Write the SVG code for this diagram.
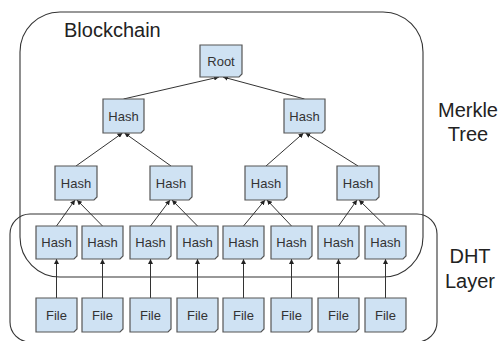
<svg xmlns="http://www.w3.org/2000/svg" width="499" height="341" viewBox="0 0 499 341">
<style>
.box{fill:#cfe2f3;stroke:#555;stroke-width:1.2}
.lbl{font-family:"Liberation Sans",Arial,sans-serif;font-size:13px;fill:#333;text-anchor:middle}
.big{font-family:"Liberation Sans",Arial,sans-serif;font-size:20px;fill:#222}
.region{fill:none;stroke:#333;stroke-width:1.1}
.conn{stroke:#333;stroke-width:1;fill:none;marker-end:url(#ah)}
</style>
<defs>
<marker id="ah" viewBox="0 0 10 10" refX="10" refY="5" markerWidth="5" markerHeight="5" orient="auto" markerUnits="userSpaceOnUse">
<path d="M0,0 L10,5 L0,10 z" fill="#222"/>
</marker>
</defs>
<rect id="blockchain" class="region" x="20" y="12" width="403" height="265" rx="40" ry="40"/>
<rect id="dht" class="region" x="10" y="214" width="427" height="128" rx="20" ry="20"/>
<text class="big" x="64" y="37">Blockchain</text>
<text class="big" x="468" y="117" text-anchor="middle">Merkle</text>
<text class="big" x="468" y="141" text-anchor="middle">Tree</text>
<text class="big" x="470" y="263" text-anchor="middle">DHT</text>
<text class="big" x="470" y="288" text-anchor="middle">Layer</text>
<g id="connectors">
<line class="conn" x1="123.5" y1="99" x2="219" y2="77"/>
<line class="conn" x1="304.5" y1="99" x2="223" y2="77"/>
<line class="conn" x1="76" y1="166" x2="122.5" y2="133"/>
<line class="conn" x1="171" y1="166" x2="124.5" y2="133"/>
<line class="conn" x1="266" y1="166" x2="303.5" y2="133"/>
<line class="conn" x1="358" y1="166" x2="305.5" y2="133"/>
<line class="conn" x1="56.5" y1="226" x2="75" y2="200"/>
<line class="conn" x1="102.5" y1="226" x2="77" y2="200"/>
<line class="conn" x1="150.5" y1="226" x2="170" y2="200"/>
<line class="conn" x1="197.5" y1="226" x2="172" y2="200"/>
<line class="conn" x1="243.5" y1="226" x2="265" y2="200"/>
<line class="conn" x1="291.5" y1="226" x2="267" y2="200"/>
<line class="conn" x1="338.5" y1="226" x2="357" y2="200"/>
<line class="conn" x1="385.5" y1="226" x2="359" y2="200"/>
<line class="conn" x1="56.5" y1="298" x2="56.5" y2="259"/>
<line class="conn" x1="102.5" y1="298" x2="102.5" y2="259"/>
<line class="conn" x1="150.5" y1="298" x2="150.5" y2="259"/>
<line class="conn" x1="197.5" y1="298" x2="197.5" y2="259"/>
<line class="conn" x1="243.5" y1="298" x2="243.5" y2="259"/>
<line class="conn" x1="291.5" y1="298" x2="291.5" y2="259"/>
<line class="conn" x1="338.5" y1="298" x2="338.5" y2="259"/>
<line class="conn" x1="385.5" y1="298" x2="385.5" y2="259"/>
</g>
<g id="root"><path class="box" d="M200,45 h42 v29 l-3,3 h-39 z"/><text class="lbl" x="221" y="65.5">Root</text></g>
<g id="h1a"><path class="box" d="M103,99 h41 v31 l-3,3 h-38 z"/><text class="lbl" x="123.5" y="120.5">Hash</text></g>
<g id="h1b"><path class="box" d="M284,99 h41 v31 l-3,3 h-38 z"/><text class="lbl" x="304.5" y="120.5">Hash</text></g>
<g id="h2a"><path class="box" d="M55,166 h42 v31 l-3,3 h-39 z"/><text class="lbl" x="76" y="187.5">Hash</text></g>
<g id="h2b"><path class="box" d="M150,166 h42 v31 l-3,3 h-39 z"/><text class="lbl" x="171" y="187.5">Hash</text></g>
<g id="h2c"><path class="box" d="M245,166 h42 v31 l-3,3 h-39 z"/><text class="lbl" x="266" y="187.5">Hash</text></g>
<g id="h2d"><path class="box" d="M337,166 h42 v31 l-3,3 h-39 z"/><text class="lbl" x="358" y="187.5">Hash</text></g>
<g id="h3a"><path class="box" d="M36,226 h41 v30 l-3,3 h-38 z"/><text class="lbl" x="56.5" y="247">Hash</text></g>
<g id="h3b"><path class="box" d="M82,226 h41 v30 l-3,3 h-38 z"/><text class="lbl" x="102.5" y="247">Hash</text></g>
<g id="h3c"><path class="box" d="M130,226 h41 v30 l-3,3 h-38 z"/><text class="lbl" x="150.5" y="247">Hash</text></g>
<g id="h3d"><path class="box" d="M177,226 h41 v30 l-3,3 h-38 z"/><text class="lbl" x="197.5" y="247">Hash</text></g>
<g id="h3e"><path class="box" d="M223,226 h41 v30 l-3,3 h-38 z"/><text class="lbl" x="243.5" y="247">Hash</text></g>
<g id="h3f"><path class="box" d="M271,226 h41 v30 l-3,3 h-38 z"/><text class="lbl" x="291.5" y="247">Hash</text></g>
<g id="h3g"><path class="box" d="M318,226 h41 v30 l-3,3 h-38 z"/><text class="lbl" x="338.5" y="247">Hash</text></g>
<g id="h3h"><path class="box" d="M365,226 h41 v30 l-3,3 h-38 z"/><text class="lbl" x="385.5" y="247">Hash</text></g>
<g id="f1"><path class="box" d="M36,298 h41 v31 l-3,3 h-38 z"/><text class="lbl" x="56.5" y="319.5">File</text></g>
<g id="f2"><path class="box" d="M82,298 h41 v31 l-3,3 h-38 z"/><text class="lbl" x="102.5" y="319.5">File</text></g>
<g id="f3"><path class="box" d="M130,298 h41 v31 l-3,3 h-38 z"/><text class="lbl" x="150.5" y="319.5">File</text></g>
<g id="f4"><path class="box" d="M177,298 h41 v31 l-3,3 h-38 z"/><text class="lbl" x="197.5" y="319.5">File</text></g>
<g id="f5"><path class="box" d="M223,298 h41 v31 l-3,3 h-38 z"/><text class="lbl" x="243.5" y="319.5">File</text></g>
<g id="f6"><path class="box" d="M271,298 h41 v31 l-3,3 h-38 z"/><text class="lbl" x="291.5" y="319.5">File</text></g>
<g id="f7"><path class="box" d="M318,298 h41 v31 l-3,3 h-38 z"/><text class="lbl" x="338.5" y="319.5">File</text></g>
<g id="f8"><path class="box" d="M365,298 h41 v31 l-3,3 h-38 z"/><text class="lbl" x="385.5" y="319.5">File</text></g>
</svg>
